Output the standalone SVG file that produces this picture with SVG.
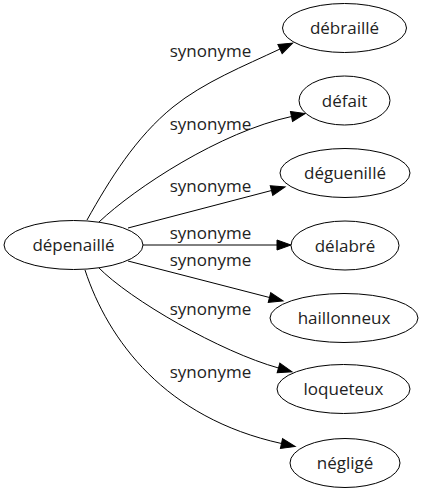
<svg xmlns="http://www.w3.org/2000/svg" width="425" height="491" viewBox="0 0 425 491">
<style>
.node ellipse{fill:#fff;stroke:#000;stroke-width:1}
text{font-family:"Open Sans","Liberation Sans",sans-serif;font-size:17px;fill:#222;text-anchor:middle}
.edge path{fill:none;stroke:#000;stroke-width:1}
</style>
<defs>
<marker id="arr" markerUnits="userSpaceOnUse" markerWidth="15" markerHeight="11" refX="0" refY="5" orient="auto" overflow="visible">
<path d="M0,0 L14,5 L0,10 z" fill="#000" stroke="#000" stroke-width="1"/>
</marker>
</defs>
<rect width="425" height="491" fill="#fff"/>
<g id="edges" class="edge">
<path d="M87,220 C110,179 136,137 173,107 C204,82 244,66 280,49" marker-end="url(#arr)"/>
<path d="M99,222 C135,188 220,132 291.5,116.5" marker-end="url(#arr)"/>
<path d="M128,228 L271.5,190.5" marker-end="url(#arr)"/>
<path d="M143,245 L277,245" marker-end="url(#arr)"/>
<path d="M128,261 L269.5,297.5" marker-end="url(#arr)"/>
<path d="M98,267 C130,300 221,352 278.5,368" marker-end="url(#arr)"/>
<path d="M85,270 C108,340 165,418 281.5,443.5" marker-end="url(#arr)"/>
<text x="210.5" y="57">synonyme</text>
<text x="210.5" y="130">synonyme</text>
<text x="210.5" y="192">synonyme</text>
<text x="210.5" y="239">synonyme</text>
<text x="210.5" y="266">synonyme</text>
<text x="210.5" y="315">synonyme</text>
<text x="210.5" y="378">synonyme</text>
</g>
<g id="n-depenaille" class="node"><ellipse cx="73.5" cy="245" rx="69.5" ry="24.5"/><text x="73.5" y="251">dépenaillé</text></g>
<g id="n-debraille" class="node"><ellipse cx="344.5" cy="28" rx="62" ry="24.5"/><text x="344.5" y="34">débraillé</text></g>
<g id="n-defait" class="node"><ellipse cx="344.5" cy="100.5" rx="45.5" ry="24.5"/><text x="344.5" y="106.5">défait</text></g>
<g id="n-deguenille" class="node"><ellipse cx="345" cy="173" rx="65" ry="24.5"/><text x="345" y="179">déguenillé</text></g>
<g id="n-delabre" class="node"><ellipse cx="345" cy="245.5" rx="54" ry="24.5"/><text x="345" y="251.5">délabré</text></g>
<g id="n-haillonneux" class="node"><ellipse cx="344" cy="318" rx="74" ry="24.5"/><text x="344" y="324">haillonneux</text></g>
<g id="n-loqueteux" class="node"><ellipse cx="343.5" cy="389" rx="66.5" ry="24.5"/><text x="343.5" y="395">loqueteux</text></g>
<g id="n-neglige" class="node"><ellipse cx="345" cy="463" rx="55" ry="24.5"/><text x="345" y="469">négligé</text></g>
</svg>
